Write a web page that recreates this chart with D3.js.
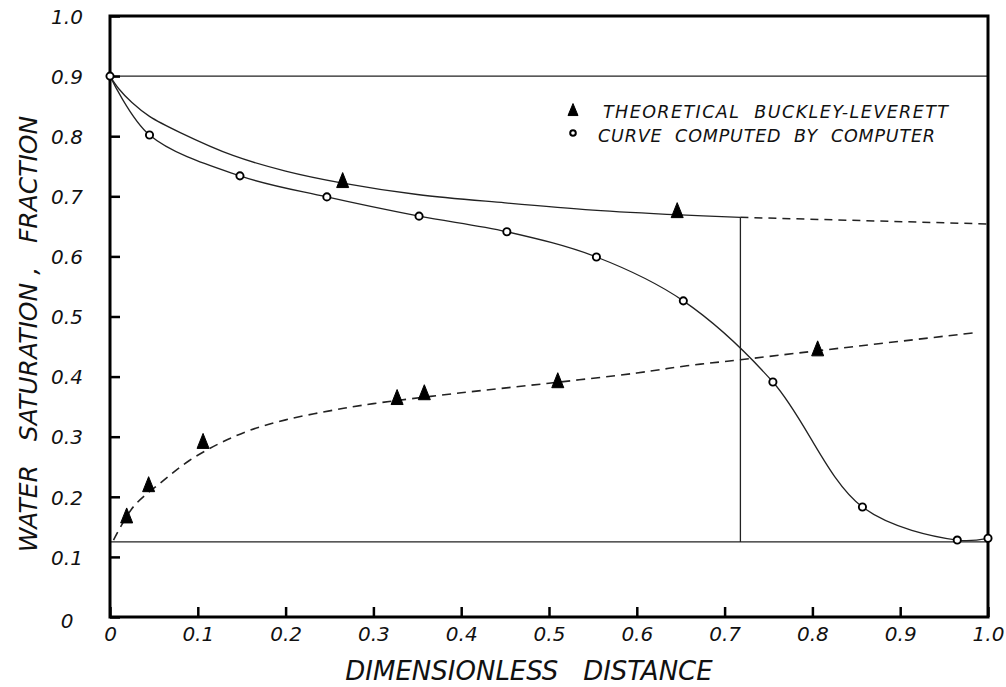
<!DOCTYPE html>
<html>
<head>
<meta charset="utf-8">
<script src="https://cdn.jsdelivr.net/npm/d3@7"></script>
<style>
  html, body { margin: 0; padding: 0; background: #fff; }
  svg { display: block; }
  text { font-family: "DejaVu Sans", sans-serif; font-style: italic; fill: #111; }
</style>
</head>
<body>
<svg id="chart" width="1006" height="687"></svg>
<script>
// ---------- data ----------
const xTicks = [0, 0.1, 0.2, 0.3, 0.4, 0.5, 0.6, 0.7, 0.8, 0.9, 1.0];
const xTickLabels = ["0", "0.1", "0.2", "0.3", "0.4", "0.5", "0.6", "0.7", "0.8", "0.9", "1.0"];
const yTicks = [0, 0.1, 0.2, 0.3, 0.4, 0.5, 0.6, 0.7, 0.8, 0.9, 1.0];
const yTickLabels = ["0", "0.1", "0.2", "0.3", "0.4", "0.5", "0.6", "0.7", "0.8", "0.9", "1.0"];

const initialSaturation = 0.9;
const connateSaturation = 0.125;
const frontPosition = 0.718;

// theoretical Buckley-Leverett profile (solid, upper) ending at the shock front
const blCurveX = [0, 0.01, 0.025, 0.045, 0.08, 0.14, 0.2, 0.265, 0.35, 0.45, 0.55, 0.65, 0.718];
const blCurveY = [0.9, 0.879, 0.856, 0.833, 0.806, 0.768, 0.742, 0.722, 0.703, 0.689, 0.677, 0.669, 0.665];
// dashed extension beyond the front
const blExtX = [0.718, 1.0];
const blExtY = [0.665, 0.654];

// curve computed by computer (open circles)
const compX = [0, 0.045, 0.148, 0.247, 0.352, 0.452, 0.554, 0.653, 0.755, 0.857, 0.965, 1.0];
const compY = [0.9, 0.802, 0.734, 0.699, 0.667, 0.641, 0.599, 0.526, 0.391, 0.183, 0.128, 0.131];

// lower dashed curve
const lowDashX = [0.004, 0.027, 0.06, 0.09, 0.125, 0.16, 0.2, 0.25, 0.3, 0.4, 0.5, 0.6, 0.657, 0.718, 0.806, 0.985];
const lowDashY = [0.128, 0.184, 0.226, 0.26, 0.289, 0.311, 0.328, 0.343, 0.355, 0.373, 0.389, 0.406, 0.418, 0.428, 0.443, 0.473];

// theoretical Buckley-Leverett points (triangles)
const triX = [0.265, 0.646, 0.019, 0.044, 0.106, 0.327, 0.358, 0.510, 0.806];
const triY = [0.724, 0.674, 0.166, 0.218, 0.290, 0.363, 0.371, 0.391, 0.444];

const legendLabels = ["THEORETICAL  BUCKLEY-LEVERETT", "CURVE  COMPUTED  BY  COMPUTER"];
const xTitle = "DIMENSIONLESS\u00A0\u00A0\u00A0DISTANCE";
const yTitle = "WATER\u00A0\u00A0\u00A0SATURATION\u00A0,\u00A0\u00A0\u00A0FRACTION";

// ---------- layout ----------
const svg = d3.select("#chart");
const x = d3.scaleLinear().domain([0, 1]).range([110, 988]);
const y = d3.scaleLinear().domain([0, 1]).range([617, 16]);
const zip = (a, b) => a.map((v, i) => [v, b[i]]);
const line = d3.line().x(d => x(d[0])).y(d => y(d[1]));
const smooth = d3.line().x(d => x(d[0])).y(d => y(d[1])).curve(d3.curveCatmullRom.alpha(0.5));

const ink = "#222";

// reference horizontal lines
svg.append("path").attr("d", line([[0, initialSaturation], [1, initialSaturation]]))
  .attr("fill", "none").attr("stroke", ink).attr("stroke-width", 1.2);
svg.append("path").attr("d", line([[0, connateSaturation], [1, connateSaturation]]))
  .attr("fill", "none").attr("stroke", ink).attr("stroke-width", 1.2);

// BL curve + front
svg.append("path").attr("d", smooth(zip(blCurveX, blCurveY)))
  .attr("fill", "none").attr("stroke", ink).attr("stroke-width", 1.3);
svg.append("path").attr("d", line([[frontPosition, blCurveY[blCurveY.length - 1]], [frontPosition, connateSaturation]]))
  .attr("fill", "none").attr("stroke", ink).attr("stroke-width", 1.3);
svg.append("path").attr("d", line(zip(blExtX, blExtY)))
  .attr("fill", "none").attr("stroke", ink).attr("stroke-width", 1.5).attr("stroke-dasharray", "8,6");

// lower dashed curve
svg.append("path").attr("d", smooth(zip(lowDashX, lowDashY)))
  .attr("fill", "none").attr("stroke", ink).attr("stroke-width", 1.6).attr("stroke-dasharray", "9,6");

// computed curve
svg.append("path").attr("d", smooth(zip(compX, compY)))
  .attr("fill", "none").attr("stroke", ink).attr("stroke-width", 1.3);

// axes (ticks inward)
const yAxis = d3.axisLeft(y).tickValues(yTicks).tickSize(-10).tickPadding(0)
  .tickFormat((d, i) => yTickLabels[i]);
const gy = svg.append("g").attr("transform", `translate(${x(0)},0)`).call(yAxis);
gy.select(".domain").remove();
gy.selectAll(".tick line").attr("stroke", "#000").attr("stroke-width", 2.5);
gy.selectAll(".tick text").attr("x", -43).attr("text-anchor", "middle").attr("dy", "0.36em")
  .style("font-size", "20px").style("font-family", "DejaVu Sans").style("font-style", "italic").attr("fill", "#111");
gy.selectAll(".tick").filter(d => d === 0).select("text").attr("dy", "0.5em");

const xAxis = d3.axisBottom(x).tickValues(xTicks).tickSize(-10).tickPadding(10)
  .tickFormat((d, i) => xTickLabels[i]);
const gx = svg.append("g").attr("transform", `translate(0,${y(0)})`).call(xAxis);
gx.select(".domain").remove();
gx.selectAll(".tick line").attr("stroke", "#000").attr("stroke-width", 2.5);
gx.selectAll(".tick text").attr("text-anchor", "middle")
  .style("font-size", "20px").style("font-family", "DejaVu Sans").style("font-style", "italic").attr("fill", "#111");

// frame
svg.append("rect").attr("x", x(0)).attr("y", y(1)).attr("width", x(1) - x(0)).attr("height", y(0) - y(1))
  .attr("fill", "none").attr("stroke", "#000").attr("stroke-width", 3);

// markers
const triPath = (w, h) => `M0,${-h * 0.62}L${w / 2},${h * 0.38}L${-w / 2},${h * 0.38}Z`;
svg.append("g").selectAll("path").data(zip(triX, triY)).join("path")
  .attr("d", triPath(12, 15))
  .attr("transform", d => `translate(${x(d[0])},${y(d[1])})`)
  .attr("fill", "#000").attr("stroke", "#000").attr("stroke-width", 1).attr("stroke-linejoin", "round");

svg.append("g").selectAll("circle").data(zip(compX, compY)).join("circle")
  .attr("cx", d => x(d[0])).attr("cy", d => y(d[1])).attr("r", 3.6)
  .attr("fill", "#fff").attr("stroke", "#000").attr("stroke-width", 1.9);

// legend
const lg = svg.append("g");
lg.append("path").attr("d", triPath(10, 12)).attr("transform", "translate(573,111)")
  .attr("fill", "#000").attr("stroke", "#000").attr("stroke-linejoin", "round");
lg.append("circle").attr("cx", 573).attr("cy", 133).attr("r", 2.8)
  .attr("fill", "#fff").attr("stroke", "#000").attr("stroke-width", 2);
lg.append("text").attr("x", 603).attr("y", 118).attr("textLength", 345).attr("lengthAdjust", "spacing")
  .style("font-size", "17.5px").style("white-space", "pre").text(legendLabels[0]);
lg.append("text").attr("x", 598).attr("y", 142).attr("textLength", 337).attr("lengthAdjust", "spacing")
  .style("font-size", "17.5px").style("white-space", "pre").text(legendLabels[1]);

// axis titles
svg.append("text").attr("x", 529).attr("y", 680).attr("text-anchor", "middle")
  .style("font-size", "26px").text(xTitle);
svg.append("text").attr("transform", "translate(37,334) rotate(-90)").attr("text-anchor", "middle")
  .style("font-size", "25px").text(yTitle);
</script>
</body>
</html>
